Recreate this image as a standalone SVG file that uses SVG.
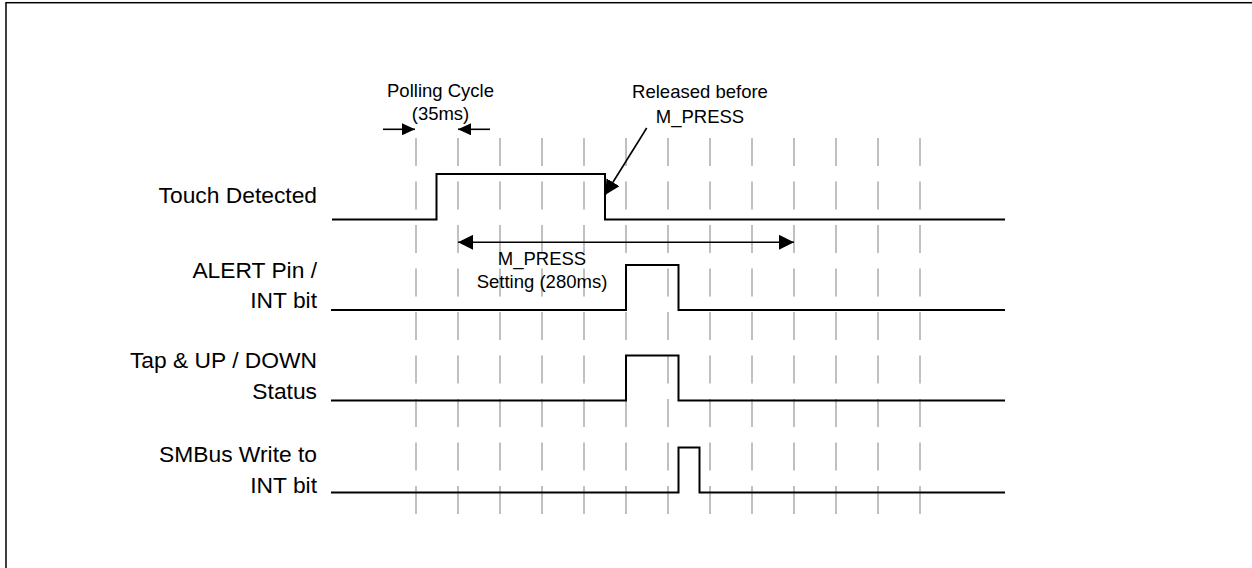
<svg xmlns="http://www.w3.org/2000/svg" width="1252" height="568" viewBox="0 0 1252 568">
<defs>
<style>
.lbl{font-family:"Liberation Sans",Arial,sans-serif;font-size:22.8px;fill:#000;text-anchor:end}
.ann{font-family:"Liberation Sans",Arial,sans-serif;font-size:18.5px;fill:#000;text-anchor:middle}
.sig{fill:none;stroke:#000;stroke-width:2}
.grid{stroke:#c0c0c0;stroke-width:2;stroke-dasharray:28 15.5}
.arr{fill:none;stroke:#000;stroke-width:1.6}
</style>
<marker id="ah" viewBox="0 0 15 15" refX="15" refY="7.5" markerWidth="15" markerHeight="15" markerUnits="userSpaceOnUse" orient="auto-start-reverse">
<path d="M0,0 L15,7.5 L0,15 Z" fill="#000"/>
</marker>
<marker id="ahs" viewBox="0 0 13 12" refX="13" refY="6" markerWidth="13" markerHeight="12" markerUnits="userSpaceOnUse" orient="auto">
<path d="M0,0 L13,6 L0,12 Z" fill="#000"/>
</marker>
</defs>
<rect x="0" y="0" width="1252" height="568" fill="#fff"/>
<rect x="6" y="2.7" width="1300" height="620" fill="none" stroke="#000" stroke-width="1.5"/>
<g id="grid">
<line class="grid" x1="416" y1="138" x2="416" y2="517"/>
<line class="grid" x1="458" y1="138" x2="458" y2="517"/>
<line class="grid" x1="500" y1="138" x2="500" y2="517"/>
<line class="grid" x1="542" y1="138" x2="542" y2="517"/>
<line class="grid" x1="584" y1="138" x2="584" y2="517"/>
<line class="grid" x1="626" y1="138" x2="626" y2="517"/>
<line class="grid" x1="668" y1="138" x2="668" y2="517"/>
<line class="grid" x1="710" y1="138" x2="710" y2="517"/>
<line class="grid" x1="752" y1="138" x2="752" y2="517"/>
<line class="grid" x1="794" y1="138" x2="794" y2="517"/>
<line class="grid" x1="836" y1="138" x2="836" y2="517"/>
<line class="grid" x1="878" y1="138" x2="878" y2="517"/>
<line class="grid" x1="920" y1="138" x2="920" y2="517"/>
</g>
<g id="touch">
<text class="lbl" x="317" y="203">Touch Detected</text>
<path class="sig" d="M332,219.5 H436.5 V174 H605 V219.5 H1005"/>
</g>
<g id="alert">
<text class="lbl" x="317" y="278">ALERT Pin /</text>
<text class="lbl" x="317" y="307.5">INT bit</text>
<path class="sig" d="M331,310 H626 V265 H678.5 V310 H1005"/>
</g>
<g id="tap">
<text class="lbl" x="317" y="368">Tap &amp; UP / DOWN</text>
<text class="lbl" x="317" y="399">Status</text>
<path class="sig" d="M331,400.5 H626 V355.5 H678.5 V400.5 H1005"/>
</g>
<g id="smbus">
<text class="lbl" x="317" y="461.5">SMBus Write to</text>
<text class="lbl" x="317" y="492.5">INT bit</text>
<path class="sig" d="M331,492.5 H678.5 V447.5 H699.5 V492.5 H1005"/>
</g>
<g id="polling">
<text class="ann" x="440.5" y="97">Polling Cycle</text>
<text class="ann" x="440.5" y="120">(35ms)</text>
</g>
<g id="released">
<text class="ann" x="700" y="98">Released before</text>
<text class="ann" x="700" y="123">M_PRESS</text>
</g>
<g id="mpress">
<text class="ann" x="542" y="265">M_PRESS</text>
<text class="ann" x="542" y="288">Setting (280ms)</text>
</g>
<g id="connectors">
<line class="arr" x1="383" y1="129.3" x2="415" y2="129.3" marker-end="url(#ahs)"/>
<line class="arr" x1="490" y1="129.3" x2="458" y2="129.3" marker-end="url(#ahs)"/>
<line class="arr" x1="646.7" y1="128" x2="605" y2="195" marker-end="url(#ah)"/>
<line class="arr" x1="458" y1="242.3" x2="794" y2="242.3" marker-start="url(#ah)" marker-end="url(#ah)"/>
</g>
</svg>
